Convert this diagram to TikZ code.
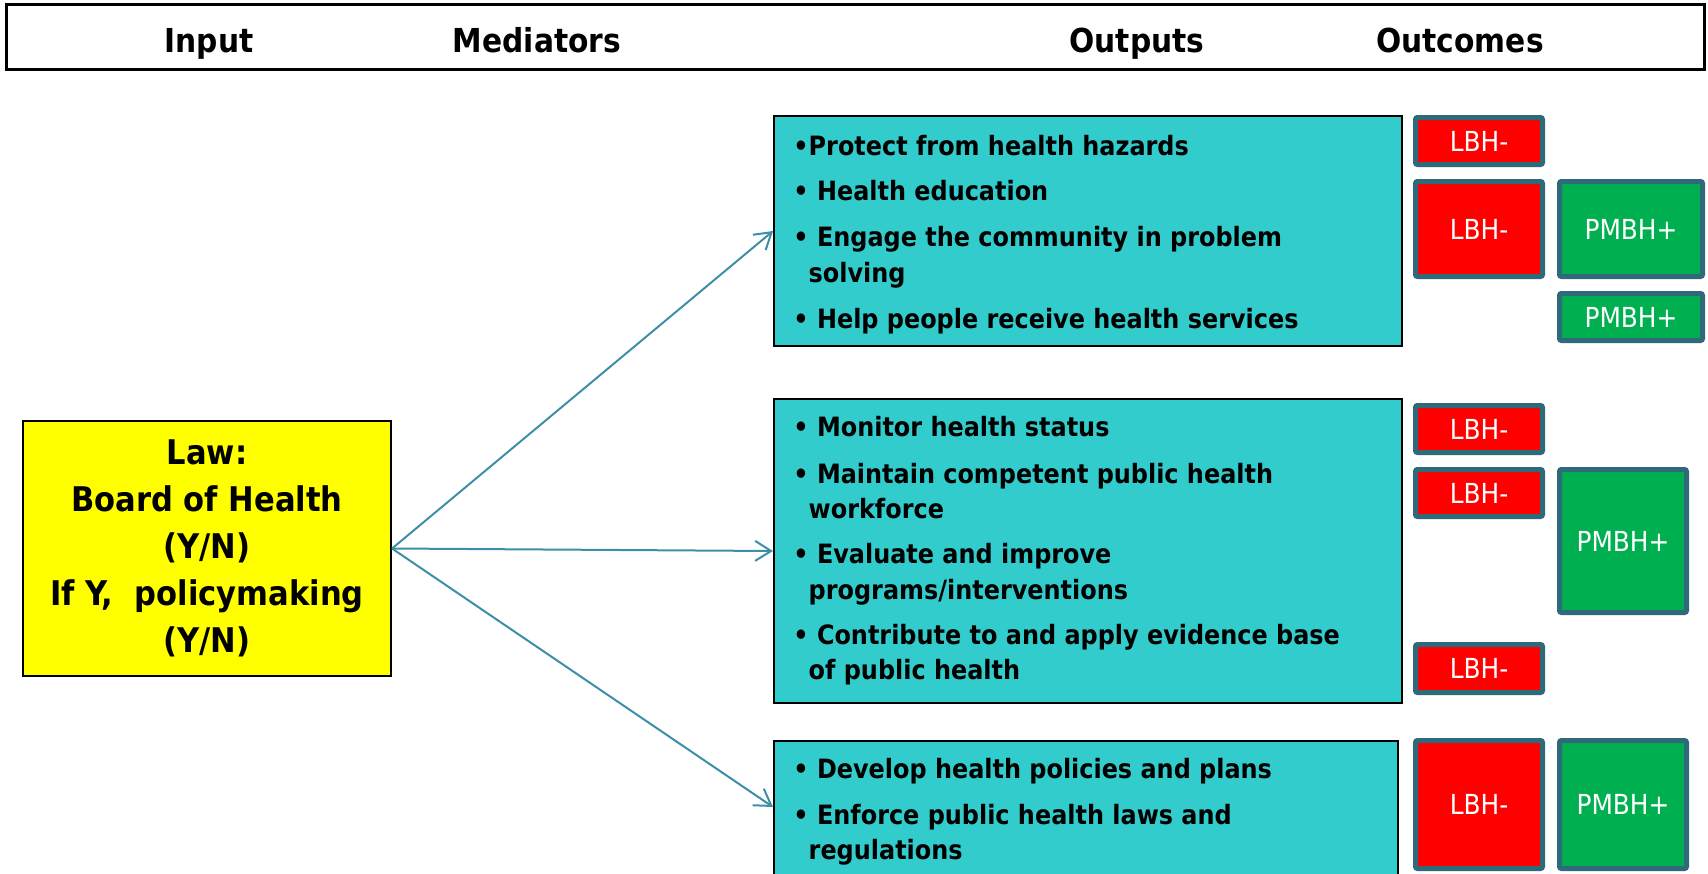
\documentclass[tikz,border=0pt]{standalone}
\usepackage{fontspec}
\setmainfont{DejaVu Sans Condensed}
\usepackage{xcolor}
\usepackage{tikz}
\usetikzlibrary{arrows.meta, shadows}

\definecolor{outcyan}{HTML}{33CCCC}
\definecolor{lawyellow}{HTML}{FFFF00}
\definecolor{lbhred}{HTML}{FF0000}
\definecolor{pmbhgreen}{HTML}{00B050}
\definecolor{edgeteal}{HTML}{2F6A7A}
\definecolor{linkblue}{HTML}{3D8FA8}

\tikzset{
  headbox/.style={draw=black, line width=1.5pt, fill=white, minimum width=849pt, minimum height=32.5pt,
    drop shadow={shadow xshift=0pt, shadow yshift=-1.2pt, fill=gray, opacity=0.8}},
  head/.style={anchor=base, inner sep=0pt, font=\bfseries\fontsize{16.5}{18}\selectfont},
  lawbox/.style={draw=black, line width=1pt, fill=lawyellow, minimum width=184pt, minimum height=127.5pt,
    align=center, inner sep=0pt, font=\bfseries\fontsize{17}{23.5}\selectfont},
  outbox/.style={draw=black, line width=1pt, fill=outcyan, minimum width=314pt},
  itm/.style={anchor=base west, inner sep=0pt, font=\bfseries\fontsize{13.3}{16}\selectfont},
  mark box/.style={draw=edgeteal, line width=2.5pt, rounded corners=1pt, text=white, inner sep=0pt,
    font=\fontsize{13.8}{16}\selectfont},
  lbh/.style={mark box, fill=lbhred, minimum width=63.5pt},
  pmbh/.style={mark box, fill=pmbhgreen, minimum width=63.5pt},
  link/.style={draw=linkblue, line width=1pt, -{Straight Barb[length=8pt, width=10pt]}}
}

\begin{document}
\begin{tikzpicture}[x=0.5pt, y=-0.5pt]
\useasboundingbox (0,0) rectangle (1708,873);

\node [headbox] (hdr) at (855,36.5) {};
\node [head] (hinput) at (209,52) {Input};
\node [head] (hmed) at (537,52) {Mediators};
\node [head] (hout) at (1137,52) {Outputs};
\node [head] (houtc) at (1460,52) {Outcomes};

\node [lawbox] (law) at (207,548.5) {Law:\\Board of Health\\(Y/N)\\If Y,\ \ policymaking\\(Y/N)};

\node [outbox, minimum height=115pt] (out1) at (1088,231) {};
\node [itm] (o1a) at (793,155) {•Protect from health hazards};
\node [itm] (o1b) at (793,200.5) {• Health education};
\node [itm] (o1c) at (793,246) {• Engage the community in problem};
\node [itm] (o1d) at (793,282) {\phantom{•}solving};
\node [itm] (o1e) at (793,328) {• Help people receive health services};

\node [outbox, minimum height=152pt] (out2) at (1088,551) {};
\node [itm] (o2a) at (793,436) {• Monitor health status};
\node [itm] (o2b) at (793,483) {• Maintain competent public health};
\node [itm] (o2c) at (793,518) {\phantom{•}workforce};
\node [itm] (o2d) at (793,563) {• Evaluate and improve};
\node [itm] (o2e) at (793,599) {\phantom{•}programs/interventions};
\node [itm] (o2f) at (793,644) {• Contribute to and apply evidence base};
\node [itm] (o2g) at (793,679) {\phantom{•}of public health};

\node [outbox, minimum width=312pt, minimum height=73pt] (out3) at (1086,814) {};
\node [itm] (o3a) at (793,778) {• Develop health policies and plans};
\node [itm] (o3b) at (793,824) {• Enforce public health laws and};
\node [itm] (o3c) at (793,859) {\phantom{•}regulations};

\node [lbh, minimum height=23.5pt] (a1) at (1479,141) {LBH-};
\node [lbh, minimum height=47.5pt] (a2) at (1479,229) {LBH-};
\node [pmbh, minimum width=71.5pt, minimum height=47.5pt] (a3) at (1631,229) {PMBH+};
\node [pmbh, minimum width=71.5pt, minimum height=23.5pt] (a4) at (1631,317) {PMBH+};

\node [lbh, minimum height=23.5pt] (b1) at (1479,429) {LBH-};
\node [lbh, minimum height=23.5pt] (b2) at (1479,493) {LBH-};
\node [pmbh, minimum height=71.5pt] (b3) at (1623,541) {PMBH+};
\node [lbh, minimum height=24pt] (b4) at (1479,668.5) {LBH-};

\node [lbh, minimum height=64pt] (c1) at (1479,804.5) {LBH-};
\node [pmbh, minimum height=64pt] (c2) at (1623,804.5) {PMBH+};

\draw [link] (law.east) -- (out1.west);
\draw [link] (law.east) -- (out2.west);
\draw [link] (law.east) -- ([yshift=3.5pt]out3.west);
\end{tikzpicture}
\end{document}
